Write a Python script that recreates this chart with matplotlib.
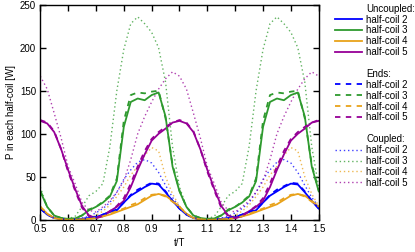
import numpy as np
import matplotlib
matplotlib.use("Agg")
import matplotlib.pyplot as plt
from matplotlib.lines import Line2D
from matplotlib.ticker import FuncFormatter, MultipleLocator

plt.rcParams['font.family'] = ['Liberation Sans', 'DejaVu Sans']
plt.rcParams['font.size'] = 7

# %% Data (one period, t/T = 0.5 ... 0.975, repeats every 0.5)

t_period = [0.500, 0.525, 0.550, 0.575, 0.600, 0.625, 0.650, 0.675, 0.700, 0.725,
            0.750, 0.775, 0.800, 0.825, 0.850, 0.875, 0.900, 0.925, 0.950, 0.975]

uncoupled_2 = [13, 6, 2, 1, 0.5, 0.5, 1, 2, 3, 6, 9, 11, 20, 28, 33, 38, 42, 41, 32, 22]
uncoupled_3 = [33, 15, 5, 2, 1, 1.5, 5, 11, 15, 20, 27, 45, 108, 137, 141, 139, 145, 148, 120, 62]
uncoupled_4 = [15, 7, 2, 0.5, 0, 0, 0.5, 1, 2, 4, 6, 9, 12, 15, 18, 23, 28, 30, 28, 22]
uncoupled_5 = [115, 112, 102, 82, 58, 36, 16, 5, 2, 4, 10, 15, 22, 38, 58, 76, 92, 100, 106, 113]

ends_2 = [13, 6, 2, 1, 0.5, 0.5, 1, 2, 3, 6, 9, 12, 20, 29, 35, 39, 43, 42, 33, 22]
ends_3 = [34, 15, 5, 2, 1, 1.5, 5, 12, 15, 21, 28, 48, 115, 145, 148, 147, 149, 150, 118, 64]
ends_4 = [15, 7, 2, 0.5, 0, 0, 0.5, 1, 2, 4, 7, 10, 13, 17, 20, 25, 29, 30, 27, 21]
ends_5 = [116, 113, 103, 82, 56, 34, 14, 4, 2, 5, 10, 16, 25, 42, 62, 80, 94, 102, 108, 113]

coupled_2 = [15, 6, 2, 1, 1, 1, 2, 4, 8, 13, 20, 32, 47, 58, 67, 70, 66, 55, 40, 26]
coupled_3 = [38, 15, 4, 1, 1, 4, 15, 28, 33, 42, 85, 150, 198, 228, 236, 228, 218, 200, 160, 85]
coupled_4 = [16, 7, 2, 1, 0.5, 0.5, 1, 2, 5, 10, 17, 27, 38, 52, 62, 75, 84, 80, 50, 30]
coupled_5 = [167, 152, 124, 95, 62, 42, 20, 11, 9, 15, 22, 32, 45, 70, 100, 120, 137, 152, 164, 172]

labels = ["half-coil 2", "half-coil 3", "half-coil 4", "half-coil 5"]
colors = ["#0000ff", "#2e9a2e", "#e8a21a", "#960096"]


def two_periods(v):
    v = np.asarray(v, dtype=float)
    return np.concatenate([v, v, v[:1]])


t = np.concatenate([np.array(t_period), np.array(t_period) + 0.5, [1.5]])

# %% Plot

fig = plt.figure(figsize=(4.15, 2.52), dpi=100)
ax = fig.add_axes([0.097, 0.128, 0.671, 0.853])

groups = [
    (coupled_2, coupled_3, coupled_4, coupled_5),
    (uncoupled_2, uncoupled_3, uncoupled_4, uncoupled_5),
    (ends_2, ends_3, ends_4, ends_5),
]

for vals, c in zip(groups[0], colors):
    ax.plot(t, two_periods(vals), color=c, lw=1.0, ls=(0, (1, 2)), alpha=0.75)
for vals, c in zip(groups[1], colors):
    ax.plot(t, two_periods(vals), color=c, lw=1.3)
for vals, c in zip(groups[2], colors):
    ax.plot(t, two_periods(vals), color=c, lw=1.3, ls=(0, (3, 3)))

ax.set_xlim(0.5, 1.5)
ax.set_ylim(0, 250)
ax.xaxis.set_major_locator(MultipleLocator(0.1))
ax.yaxis.set_major_locator(MultipleLocator(50))
ax.xaxis.set_major_formatter(FuncFormatter(lambda v, p: f"{v:g}"))
ax.tick_params(direction="in", top=True, right=True, length=4, width=1, labelsize=7, pad=3)
for s in ax.spines.values():
    s.set_linewidth(1.0)

ax.set_xlabel("t/T", fontsize=7, labelpad=3)
ax.set_ylabel("P in each half-coil [W]", fontsize=7, labelpad=3)

# legend with group titles
blank = Line2D([], [], color="none")
handles, names = [], []
for title, style in [("Uncoupled:", dict(lw=1.3)),
                     ("Ends:", dict(lw=1.3, ls=(0, (3, 3)))),
                     ("Coupled:", dict(lw=1.0, ls=(0, (1, 2)), alpha=0.75))]:
    if handles:
        handles.append(blank)
        names.append(" ")
    handles.append(blank)
    names.append(title)
    for lab, c in zip(labels, colors):
        handles.append(Line2D([], [], color=c, **style))
        names.append(lab)

fig.legend(handles, names, loc="upper left", bbox_to_anchor=(0.802, 0.993),
           frameon=False, fontsize=7, handlelength=2.8, handletextpad=0.45,
           labelspacing=0.09, borderaxespad=0, borderpad=0.2)

fig.savefig("out.png", dpi=100)
